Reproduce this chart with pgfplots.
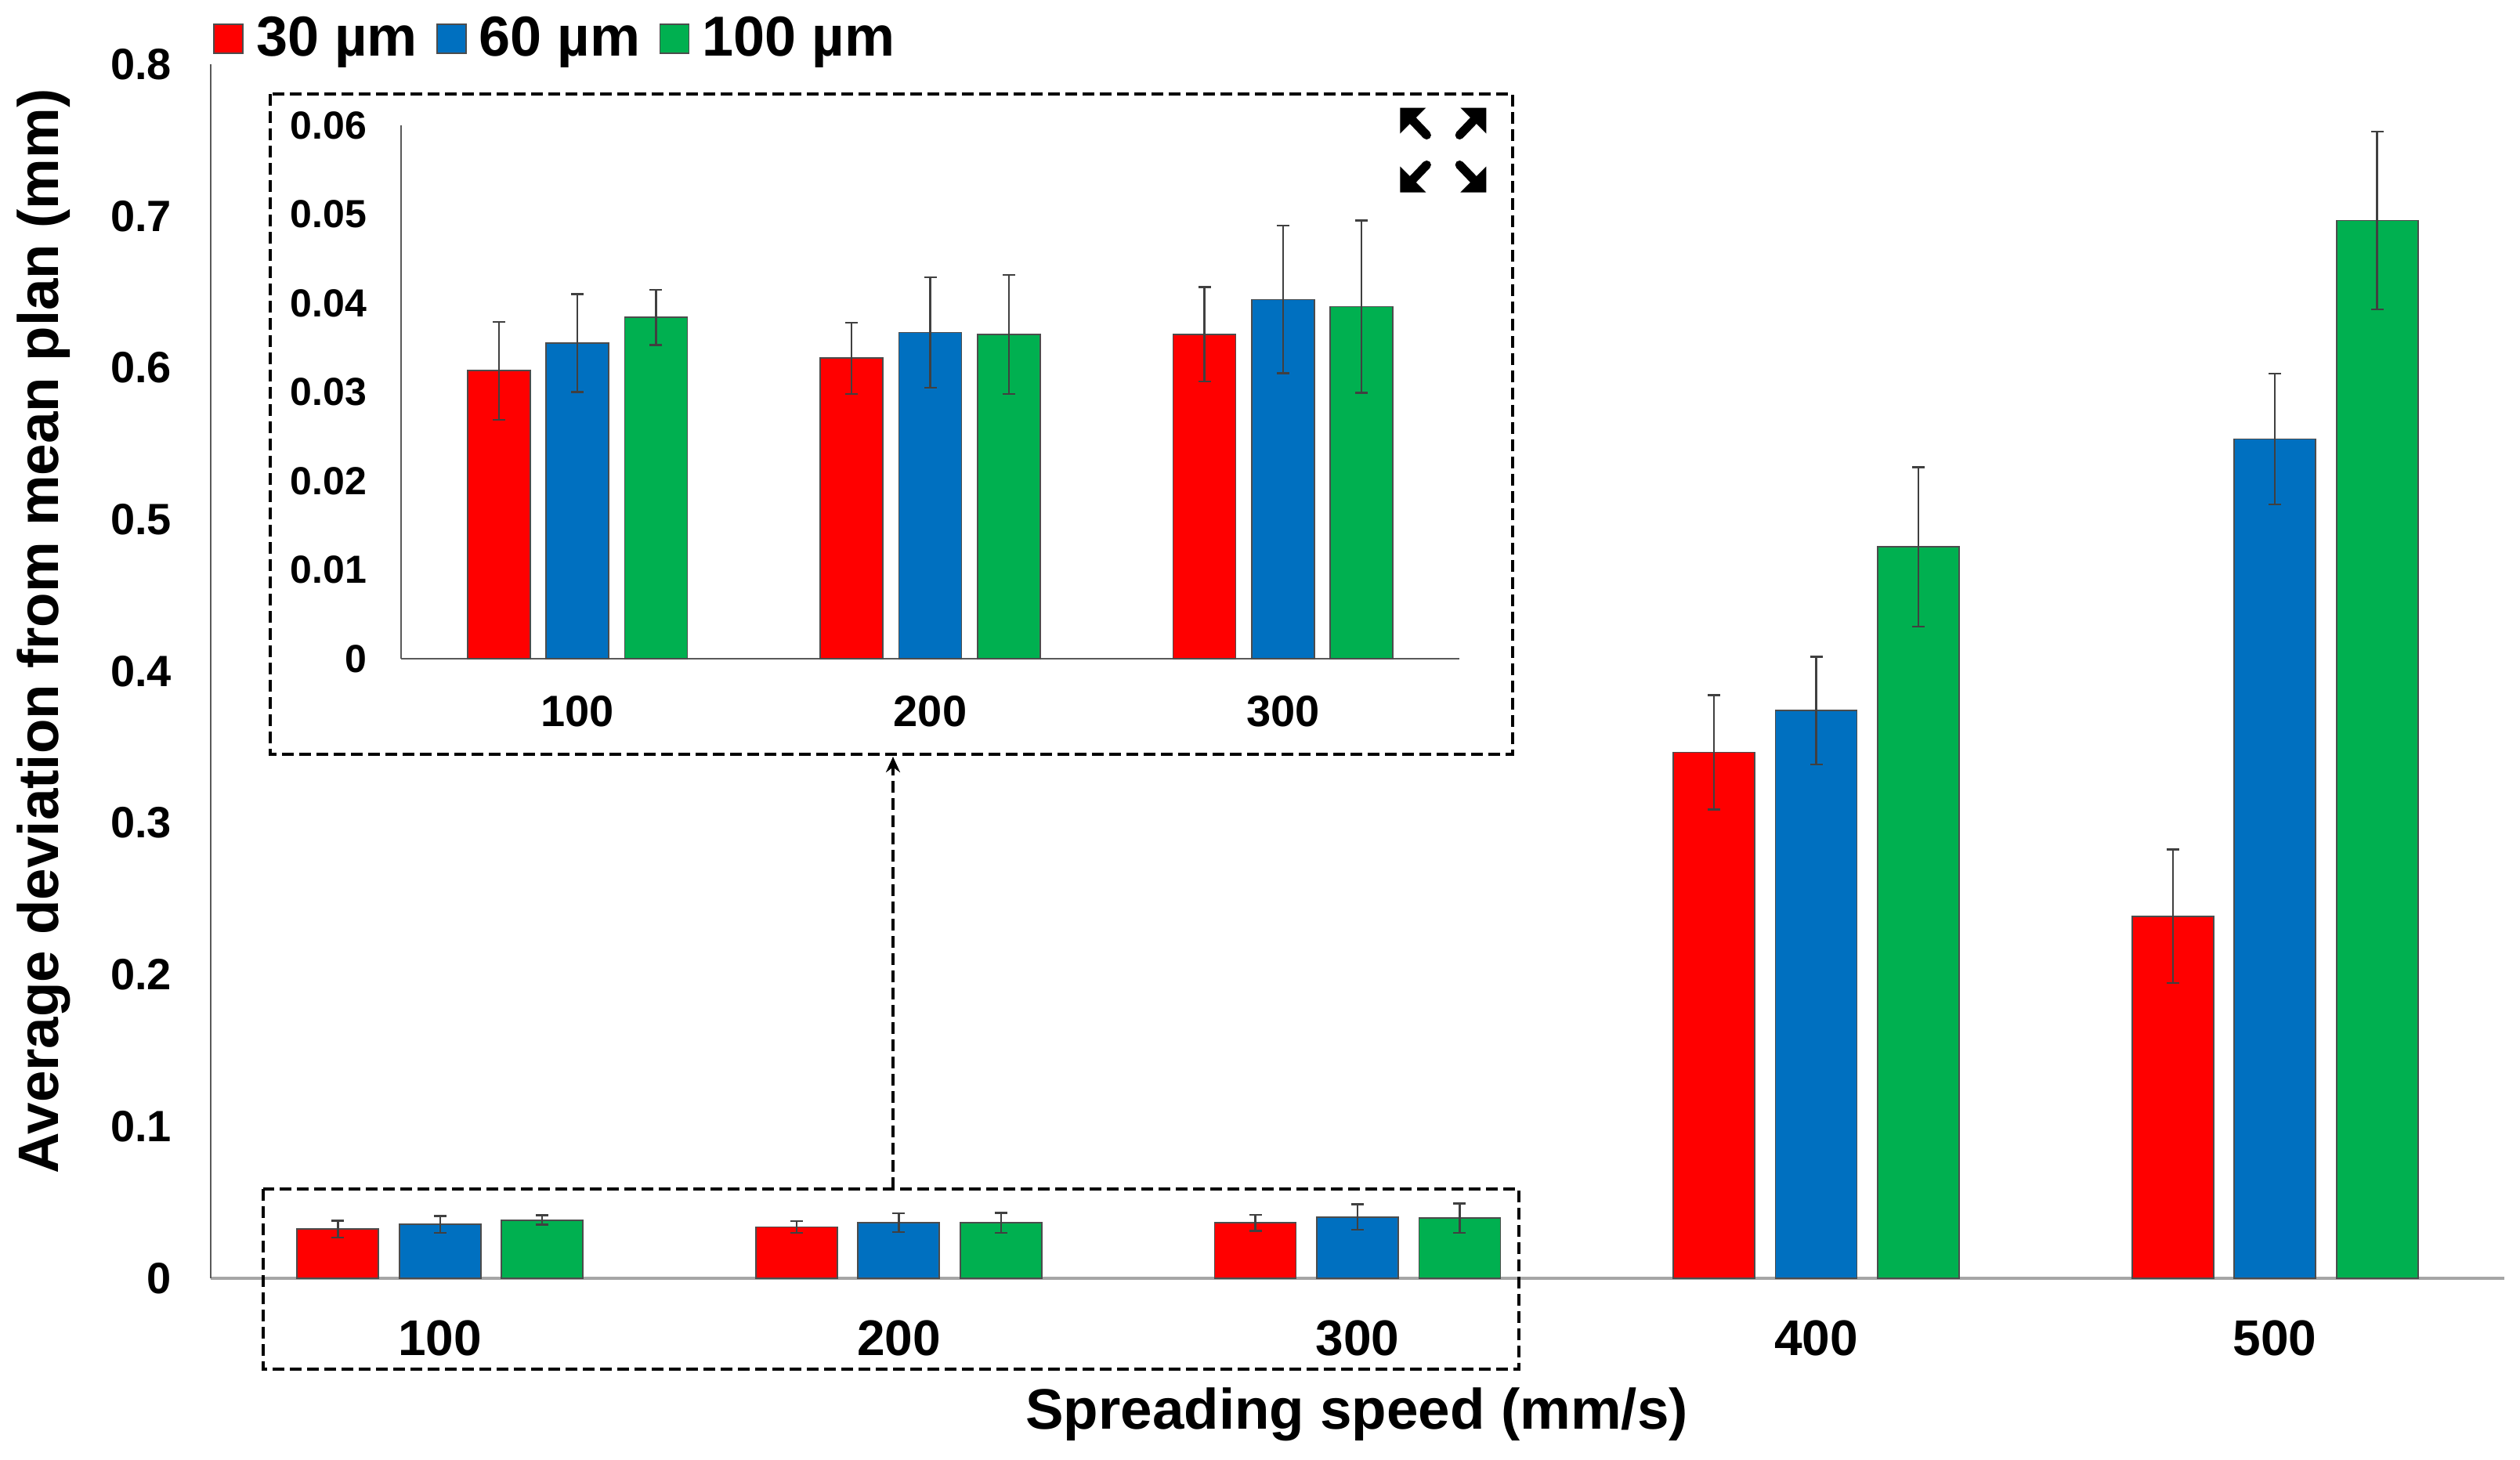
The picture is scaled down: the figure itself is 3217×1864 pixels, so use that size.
\documentclass[border=0pt]{standalone}
\usepackage{fontspec}
\setmainfont{Liberation Sans}
\usepackage{pgfplots}
\pgfplotsset{compat=1.18}
\usetikzlibrary{arrows.meta}
\definecolor{cred}{HTML}{FF0000}
\definecolor{cblue}{HTML}{0070C0}
\definecolor{cgreen}{HTML}{00B050}
\newcommand{\fs}[1]{\bfseries\fontsize{#1}{#1}\selectfont}
\pgfplotsset{
  common/.style={
    scale only axis,
    axis x line=bottom, axis y line=left,
    axis line style={-, draw=black!65, line width=0.6pt},
    major tick length=0pt,
    scaled y ticks=false,
    /pgf/number format/assume math mode=true,
    /pgf/number format/fixed,
    ymin=0,
    clip=false,
  },
  barred/.style={
    ybar, draw=black!70, line width=0.45pt, fill=#1, bar shift=0pt,
  },
  ebar/.style={
    error bars/.cd, y dir=both, y explicit,
    error bar style={black!75, line width=0.6pt},
    error mark options={rotate=90, black!75, mark size=2pt, line width=0.6pt},
  },
}
\begin{document}
\begin{tikzpicture}[x=0.25pt,y=-0.25pt]
\path (0,0) rectangle (3217,1864);
% main axis
\begin{axis}[common,
  at={(67.25pt,-408pt)}, anchor=south west,
  width=732pt, height=387.5pt,
  xmin=-0.5, xmax=4.5, ymax=0.8,
  xtick={0,1,2,3,4},
  ytick={0,0.1,...,0.8},
  xticklabels={100,200,300,400,500},
  /pgf/number format/precision=1,
  x axis line style={draw=black!35, line width=1.1pt},
  xticklabel style={font=\fs{16}, yshift=-9.8pt},
  yticklabel style={font=\fs{14}, xshift=-9pt},
  xlabel={Spreading speed (mm/s)},
  ylabel={Average deviation from mean plan (mm)},
  xlabel style={font=\fs{18.2}, at={(axis description cs:0.4997,-0.112)}, anchor=center},
  ylabel style={font=\fs{18.2}, at={(axis description cs:-0.0729,0.533)}, anchor=center},
  legend columns=3,
  legend style={draw=none, fill=none, font=\fs{18}, at={(axis description cs:0.001,0.9975)}, anchor=south west, inner sep=0pt, outer sep=0pt,
     /tikz/every even column/.append style={column sep=4pt},
     /tikz/every odd column/.append style={column sep=2.1pt}},
  legend cell align=left,
  legend image code/.code={\fill[#1] (0pt,-4.6pt) rectangle (9.25pt,4.6pt);},
]
\addplot[barred=cred, bar width=26pt, ebar] coordinates {
 (-0.2227,0.0324) +- (0,0.0055)
 (0.7773,0.0338) +- (0,0.0040)
 (1.7773,0.0365) +- (0,0.0053)
 (2.7773,0.3466) +- (0,0.0376)
 (3.7773,0.2385) +- (0,0.0440)
};
\addplot[barred=cblue, bar width=26pt, ebar] coordinates {
 (0,0.0355) +- (0,0.0055)
 (1,0.0367) +- (0,0.0062)
 (2,0.0404) +- (0,0.0083)
 (3,0.3740) +- (0,0.0355)
 (4,0.5530) +- (0,0.0430)
};
\addplot[barred=cgreen, bar width=26pt, ebar] coordinates {
 (0.2227,0.0384) +- (0,0.0031)
 (1.2227,0.0365) +- (0,0.0067)
 (2.2227,0.0396) +- (0,0.0097)
 (3.2227,0.4820) +- (0,0.0525)
 (4.2227,0.6970) +- (0,0.0585)
};
\legend{30 µm,60 µm,100 µm}
\end{axis}
% inset axis
\begin{axis}[common,
  at={(128pt,-210.25pt)}, anchor=south west,
  width=337.75pt, height=170.25pt,
  xmin=-0.5, xmax=2.5, ymax=0.06,
  xtick={0,1,2},
  ytick={0,0.01,...,0.06},
  xticklabels={100,200,300},
  /pgf/number format/precision=2,
  xticklabel style={font=\fs{14}, yshift=-8.2pt},
  yticklabel style={font=\fs{12.5}, xshift=-7.5pt},
]
\addplot[barred=cred, bar width=20pt, ebar] coordinates {
 (-0.2227,0.0324) +- (0,0.0055)
 (0.7773,0.0338) +- (0,0.0040)
 (1.7773,0.0365) +- (0,0.0053)
};
\addplot[barred=cblue, bar width=20pt, ebar] coordinates {
 (0,0.0355) +- (0,0.0055)
 (1,0.0367) +- (0,0.0062)
 (2,0.0404) +- (0,0.0083)
};
\addplot[barred=cgreen, bar width=20pt, ebar] coordinates {
 (0.2227,0.0384) +- (0,0.0031)
 (1.2227,0.0365) +- (0,0.0067)
 (2.2227,0.0396) +- (0,0.0097)
};
\end{axis}
% dashed boxes and arrow
\tikzset{dbox/.style={draw=black, line width=1.2pt, dash pattern=on 3.7pt off 1.8pt}}
\draw[dbox] (345,120) rectangle (1931,963);
\draw[dbox] (336,1518) rectangle (1939,1748);
\draw[dbox, -{Stealth[length=5pt,width=4.5pt]}] (1140,1518) -- (1140,966);
% expand icon
\foreach \sx/\sy in {-1/-1,1/-1,-1/1,1/1}{
  \begin{scope}[shift={(1842.3,191.5)}, xscale=\sx, yscale=\sy]
    \fill[black] (55,54) -- (22,54) -- (55,21) -- cycle;
    \draw[black, line width=2.8pt, line cap=round] (42,41) -- (21,19);
  \end{scope}
}
\end{tikzpicture}
\end{document}
